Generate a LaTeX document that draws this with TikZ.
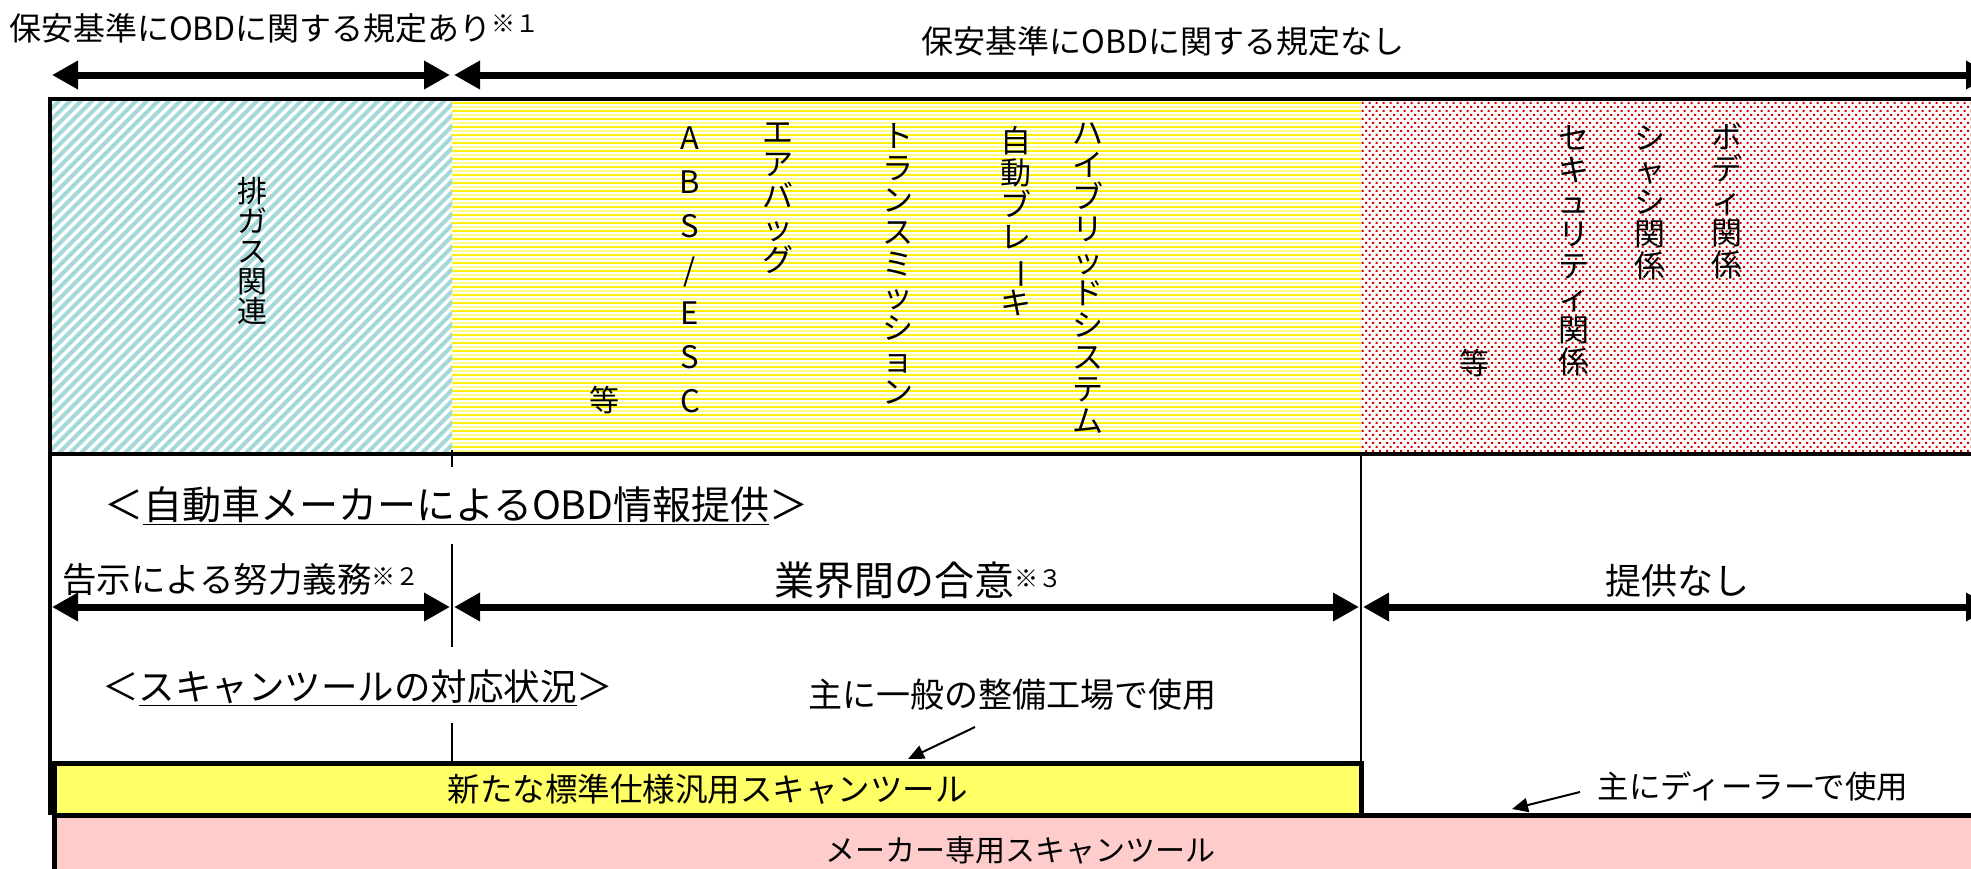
\documentclass[tikz,border=0pt]{standalone}
\usepackage{fontspec}
\setmainfont{Noto Sans CJK JP}
\usepackage{graphicx}
\usetikzlibrary{arrows.meta,patterns}
\pgfdeclarepatternformonly{reddots}{\pgfpoint{-1pt}{-1pt}}{\pgfpoint{9pt}{9pt}}{\pgfpoint{7pt}{8pt}}{%
  \pgfpathrectangle{\pgfpoint{0pt}{0pt}}{\pgfpoint{2.2pt}{2.2pt}}%
  \pgfpathrectangle{\pgfpoint{3.5pt}{4pt}}{\pgfpoint{2.2pt}{2.2pt}}%
  \pgfusepath{fill}}
\definecolor{hatchc}{RGB}{165,216,216}
\definecolor{ybright}{RGB}{255,240,0}
\definecolor{ypale}{RGB}{255,255,140}
\definecolor{boxyellow}{RGB}{255,255,102}
\definecolor{boxpink}{RGB}{255,204,204}
\definecolor{dotred}{RGB}{215,0,0}
\newcommand{\fs}[1]{\fontsize{#1}{#1}\selectfont}
\newcommand{\nt}[1]{{\fontsize{24}{24}\selectfont\raisebox{0.3em}{#1}}}
\tikzset{
  dblarrow/.style={line width=7pt,{Triangle[length=26pt,width=27pt]}-{Triangle[length=26pt,width=27pt]}},
  thinarrow/.style={line width=2pt,-{Triangle[length=16pt,width=14pt]}},
  vtxt/.style={inner sep=0pt,align=center,anchor=north,font=\fontsize{31}{32}\selectfont},
  vtxtl/.style={inner sep=0pt,align=center,anchor=north,font=\fontsize{31}{43.7}\selectfont},
  lbl/.style={inner sep=0pt},
}
\begin{document}
\begin{tikzpicture}[x=1pt,y=-1pt]
\useasboundingbox (0,0) rectangle (1971,868);
% hatched blue region
\begin{scope}
\clip (50,99) rectangle (452,454);
\foreach \i in {0,...,70} {\draw[hatchc,line width=4pt] ({-305+\i*11},454) -- ({50+\i*11},99);}
\end{scope}
% yellow stripes
\begin{scope}
\clip (452,99) rectangle (1361,454);
\foreach \i in {0,...,44} {
  \draw[ybright,line width=2.6pt] (452,{103+8*\i}) -- (1361,{103+8*\i});
  \draw[ypale,line width=1.3pt] (452,{107+8*\i}) -- (1361,{107+8*\i});
}
\end{scope}
% red dots
\fill[pattern=reddots,pattern color=dotred] (1361,99) rectangle (1990,454);
% frame
\draw[line width=4pt] (50,454) -- (50,99) -- (1995,99);
\draw[line width=4pt] (50,454) -- (1995,454);
\draw[line width=3.5pt] (50,454) -- (50,815);
\draw[line width=2.5pt] (1361,454) -- (1361,763);
\draw[line width=1.5pt] (452,450) -- (452,467);
\draw[line width=1.5pt] (452,544) -- (452,647);
\draw[line width=1.5pt] (452,723) -- (452,763);
% vertical texts
\node[vtxt,font=\fontsize{30}{30}\selectfont] (v1) at (252,177) {排\\ガ\\ス\\関\\連};
\node[lbl,font=\fs{30}] (e1) at (604,400) {等};
\node[vtxtl,anchor=north] (v2) at (690,127) {A\\B\\S\\/\\E\\S\\C};
\node[vtxt] (v3) at (778,123) {エ\\ア\\バ\\ッ\\グ};
\node[vtxt] (v4) at (898,123) {ト\\ラ\\ン\\ス\\ミ\\ッ\\シ\\ョ\\ン};
\node[vtxt] (v5) at (1016,126) {自\\動\\ブ\\レ\\\rotatebox[origin=c]{-90}{ー}\\キ};
\node[vtxt] (v6) at (1088,123) {ハ\\イ\\ブ\\リ\\ッ\\ド\\シ\\ス\\テ\\ム};
\node[lbl,font=\fs{30}] (e2) at (1474,363) {等};
\node[vtxt] (v7) at (1574,125) {セ\\キ\\ュ\\リ\\テ\\ィ\\関\\係};
\node[vtxt] (v8) at (1650,125) {シ\\ャ\\シ\\関\\係};
\node[vtxt] (v9) at (1727,123) {ボ\\デ\\ィ\\関\\係};
% top labels
\node[lbl,anchor=west,font=\fs{32}] (t1) at (9,28) {保安基準にOBDに関する規定あり\nt{※１}};
\node[lbl,font=\fs{32}] (t2) at (1163,41) {保安基準にOBDに関する規定なし};
\coordinate (a1) at (52,75); \coordinate (a2) at (450,75);
\coordinate (a3) at (454,75); \coordinate (a4) at (1992,75);
\draw[dblarrow] (a1) -- (a2);
\draw[dblarrow] (a3) -- (a4);
% middle section
\node[lbl,anchor=west,font=\fs{39}] (h1) at (104,506) {＜\underline{自動車メーカーによるOBD情報提供}＞};
\node[lbl,anchor=west,font=\fs{34.5}] (m1) at (62,580) {告示による努力義務\nt{※２}};
\node[lbl,anchor=west,font=\fs{40}] (m2) at (774,580) {業界間の合意\nt{※３}};
\node[lbl,font=\fs{36}] (m3) at (1677,581) {提供なし};
\coordinate (b1) at (52,607); \coordinate (b2) at (450,607);
\coordinate (b3) at (454,607); \coordinate (b4) at (1359,607);
\coordinate (b5) at (1363,607); \coordinate (b6) at (1992,607);
\draw[dblarrow] (b1) -- (b2);
\draw[dblarrow] (b3) -- (b4);
\draw[dblarrow] (b5) -- (b6);
\node[lbl,anchor=west,font=\fs{36.5}] (h2) at (102,688) {＜\underline{スキャンツールの対応状況}＞};
\node[lbl,font=\fs{34}] (u1) at (1012,695) {主に一般の整備工場で使用};
% tool boxes
\node[draw,line width=5pt,fill=boxpink,minimum width=1946pt,minimum height=70pt,inner sep=0pt,font=\fs{30}] (pink) at (1027,850) {\hspace*{-14pt}メーカー専用スキャンツール};
\node[draw,line width=5pt,fill=boxyellow,minimum width=1307pt,minimum height=52pt,inner sep=0pt,font=\fs{32.5}] (ybox) at (707.5,789) {新たな標準仕様汎用スキャンツール};
\node[lbl,font=\fs{31.5}] (u2) at (1753,786) {主にディーラーで使用};
\coordinate (c1) at (975,727); \coordinate (c2) at (908,759);
\draw[thinarrow] (c1) -- (c2);
\coordinate (d1) at (1580,792); \coordinate (d2) at (1512,809);
\draw[thinarrow] (d1) -- (d2);
\end{tikzpicture}
\end{document}
